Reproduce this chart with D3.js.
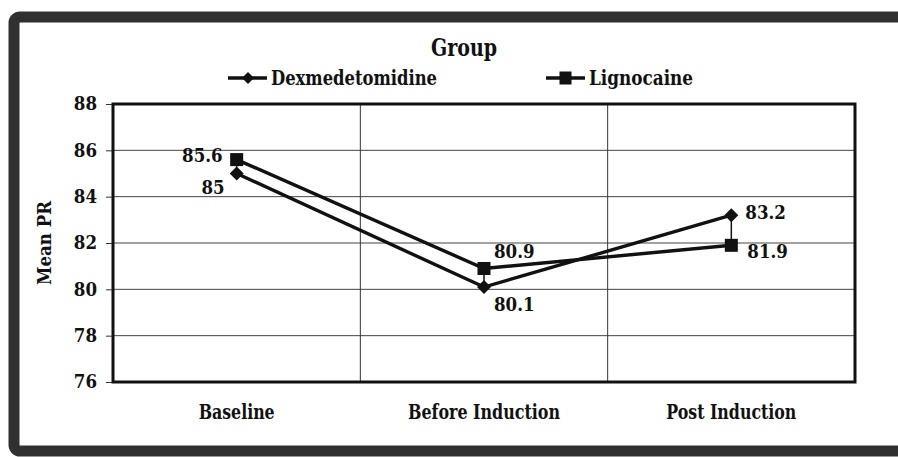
<!DOCTYPE html>
<html><head><meta charset="utf-8">
<script src="https://cdn.jsdelivr.net/npm/d3@7"></script>
<style>
html,body{margin:0;padding:0;background:#fff;}
svg{display:block;}
text{font-family:"DejaVu Serif Condensed","DejaVu Serif",serif;font-weight:bold;fill:#111;}
</style></head>
<body>
<svg id="chart" width="898" height="457"></svg>
<script>
const categories = ["Baseline", "Before Induction", "Post Induction"];
const dexValues = [85, 80.1, 83.2];
const ligValues = [85.6, 80.9, 81.9];
const seriesNames = ["Dexmedetomidine", "Lignocaine"];
const yTicks = [76, 78, 80, 82, 84, 86, 88];
const chartTitle = "Group";
const yTitle = "Mean PR";

const svg = d3.select("#chart");
const m = {left: 113, right: 855, top: 104, bottom: 382};

// outer frame
svg.append("rect").attr("x", 14).attr("y", 17).attr("width", 920).attr("height", 434)
  .attr("rx", 6).attr("fill", "#fff").attr("stroke", "#303030").attr("stroke-width", 11);

const x = d3.scaleBand().domain(categories).range([m.left, m.right]).padding(0);
const y = d3.scaleLinear().domain([76, 88]).range([m.bottom, m.top]);

// horizontal gridlines
svg.append("g").selectAll("line").data(yTicks).join("line")
  .attr("x1", m.left).attr("x2", m.right)
  .attr("y1", d => y(d)).attr("y2", d => y(d))
  .attr("stroke", "#444").attr("stroke-width", 1);

// vertical gridlines at category boundaries
svg.append("g").selectAll("line").data(categories.slice(1)).join("line")
  .attr("x1", d => x(d)).attr("x2", d => x(d))
  .attr("y1", m.top).attr("y2", m.bottom)
  .attr("stroke", "#333").attr("stroke-width", 1);

// y axis
const yAxis = d3.axisLeft(y).tickValues(yTicks).tickSize(7).tickPadding(9).tickFormat(d3.format("d"));
const ga = svg.append("g").attr("transform", `translate(${m.left},0)`).call(yAxis);
ga.select(".domain").remove();
ga.selectAll(".tick line").attr("stroke", "#333").attr("stroke-width", 1);
ga.selectAll(".tick text").attr("font-size", 18.5).attr("fill", "#111")
  .attr("font-family", "'DejaVu Serif Condensed', serif").attr("font-weight", "bold");

// x axis labels
const catWidths = {"Baseline": 76, "Before Induction": 152, "Post Induction": 130};
const xAxis = d3.axisBottom(x).tickSize(0).tickPadding(22);
const gx = svg.append("g").attr("transform", `translate(0,${m.bottom})`).call(xAxis);
gx.select(".domain").remove();
gx.selectAll(".tick text").attr("font-size", 21).attr("fill", "#111")
  .attr("font-family", "'DejaVu Serif Condensed', serif").attr("font-weight", "bold")
  .attr("textLength", d => catWidths[d]).attr("lengthAdjust", "spacingAndGlyphs");

// plot border
svg.append("rect").attr("x", m.left).attr("y", m.top)
  .attr("width", m.right - m.left).attr("height", m.bottom - m.top)
  .attr("fill", "none").attr("stroke", "#111").attr("stroke-width", 3);

// y title
svg.append("text").attr("transform", `translate(51,${(m.top + m.bottom) / 2}) rotate(-90)`)
  .attr("text-anchor", "middle").attr("font-size", 18.5).text(yTitle);

const cx = d => x(d) + x.bandwidth() / 2;

// high-low lines
svg.append("g").selectAll("line").data(categories).join("line")
  .attr("x1", d => cx(d)).attr("x2", d => cx(d))
  .attr("y1", (d, i) => y(dexValues[i])).attr("y2", (d, i) => y(ligValues[i]))
  .attr("stroke", "#111").attr("stroke-width", 1.5);

const line = d3.line().x((d, i) => cx(categories[i])).y(d => y(d));
[dexValues, ligValues].forEach(vals => {
  svg.append("path").datum(vals).attr("d", line)
    .attr("fill", "none").attr("stroke", "#111").attr("stroke-width", 3.4).attr("stroke-linejoin", "miter");
});

const diamondPath = "M0,-7L7,0L0,7L-7,0Z";
svg.append("g").selectAll("path").data(dexValues).join("path")
  .attr("transform", (d, i) => `translate(${cx(categories[i])},${y(d)})`)
  .attr("d", diamondPath).attr("fill", "#111");
svg.append("g").selectAll("rect").data(ligValues).join("rect")
  .attr("x", (d, i) => cx(categories[i]) - 6.5).attr("y", d => y(d) - 6.5)
  .attr("width", 13).attr("height", 13).attr("fill", "#111");

// data labels
const dexLabel = [{dx: -12, dy: 20, anchor: "end"}, {dx: 10, dy: 24, anchor: "start"}, {dx: 14, dy: 4, anchor: "start"}];
const ligLabel = [{dx: -14, dy: 2, anchor: "end"}, {dx: 10, dy: -10, anchor: "start"}, {dx: 16, dy: 13, anchor: "start"}];
svg.append("g").selectAll("text").data(dexValues).join("text")
  .attr("x", (d, i) => cx(categories[i]) + dexLabel[i].dx)
  .attr("y", (d, i) => y(d) + dexLabel[i].dy)
  .attr("text-anchor", (d, i) => dexLabel[i].anchor)
  .attr("font-size", 18.5).text(d => d);
svg.append("g").selectAll("text").data(ligValues).join("text")
  .attr("x", (d, i) => cx(categories[i]) + ligLabel[i].dx)
  .attr("y", (d, i) => y(d) + ligLabel[i].dy)
  .attr("text-anchor", (d, i) => ligLabel[i].anchor)
  .attr("font-size", 18.5).text(d => d);

// title
svg.append("text").attr("x", 464).attr("y", 56).attr("text-anchor", "middle")
  .attr("font-size", 24).attr("textLength", 66).attr("lengthAdjust", "spacingAndGlyphs").text(chartTitle);

// legend
const legX = [228, 546];
const legW = [166, 104];
const lg = svg.append("g");
seriesNames.forEach((name, i) => {
  const g = lg.append("g").attr("transform", `translate(${legX[i]},78)`);
  g.append("line").attr("x1", 0).attr("x2", 39).attr("y1", 0).attr("y2", 0)
    .attr("stroke", "#111").attr("stroke-width", 3.4);
  if (i === 0) {
    g.append("path").attr("transform", "translate(20,0)").attr("d", "M0,-6L6,0L0,6L-6,0Z").attr("fill", "#111");
  } else {
    g.append("rect").attr("x", 13.5).attr("y", -6.5).attr("width", 12).attr("height", 13).attr("fill", "#111");
  }
  g.append("text").attr("x", 43).attr("y", 7).attr("font-size", 20)
    .attr("textLength", legW[i]).attr("lengthAdjust", "spacingAndGlyphs").text(name);
});
</script>
</body></html>
